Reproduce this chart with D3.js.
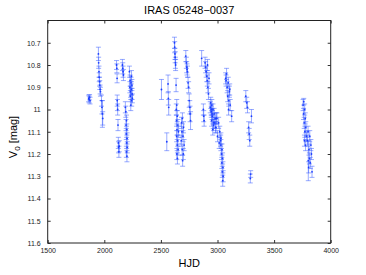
<!doctype html>
<html lang="en">
<head>
<meta charset="utf-8">
<title>IRAS 05248-0037</title>
<script src="https://cdn.jsdelivr.net/npm/d3@7"></script>
<style>
html, body { margin: 0; padding: 0; background: #fff; }
svg { display: block; font-family: "Liberation Sans", Arial, sans-serif; }
.tick text { font-size: 7px; fill: #222; }
.tick line { stroke: #333; }
.domain { stroke: none; }
</style>
</head>
<body>
<svg id="chart" width="366" height="275"></svg>
<script>
// light curve, one entry per observation (same order in all three arrays)
const hjd = [
  1862, 1866, 1870, 1874,
  1948, 1950, 1953, 1955, 1958, 1960, 1963, 1966, 1975, 1979, 1983, 1986,
  2108, 2111, 2113, 2114, 2116, 2118, 2121, 2124, 2126, 2129, 2132,
  2160, 2163, 2166, 2169,
  2186, 2190, 2196, 2192, 2199, 2194, 2201, 2197, 2203, 2195, 2200,
  2222, 2240, 2228, 2236, 2244, 2226, 2238, 2232, 2246, 2230, 2242, 2234, 2248,
  2505,
  2552, 2563, 2566, 2569,
  2620, 2622, 2624, 2626, 2628, 2630, 2634,
  2640, 2636, 2645, 2638, 2650, 2642, 2655, 2639, 2648, 2644, 2652, 2641, 2646,
  2690, 2682, 2700, 2686, 2695, 2680, 2705, 2688, 2698, 2692,
  2720, 2725, 2728, 2731, 2735, 2740, 2745, 2750, 2755, 2758, 2762,
  2860,
  2875, 2878, 2882,
  2890, 2895, 2900, 2905, 2910, 2915, 2920, 2925, 2912,
  2940, 2950, 2936, 2960, 2945, 2970, 2955, 2980, 2948, 2975, 2965, 2985, 2958, 2944, 2990, 2962, 2952,
  2995, 3010, 2985, 3020, 3000, 3030, 3015,
  3030, 3040, 3035, 3045, 3038, 3048, 3042, 3050, 3046, 3028,
  3080, 3072, 3095, 3085, 3105, 3090, 3100, 3112, 3098, 3076, 3108,
  3125,
  3250, 3258, 3265, 3275, 3280, 3285, 3290, 3293, 3300,
  3762, 3756, 3770, 3760, 3775, 3766, 3780, 3772, 3785, 3768, 3778,
  3800, 3815, 3795, 3825, 3808, 3830, 3812, 3820, 3805, 3802, 3835
];
const mag = [
  10.95, 10.955, 10.945, 10.96,
  10.75, 10.79, 10.83, 10.855, 10.875, 10.89, 10.91, 10.92, 10.96, 10.99, 11.02, 11.04,
  10.8, 10.815, 10.86, 10.96, 10.98, 11.0, 11.07, 11.15, 11.17, 11.19, 11.165,
  10.8, 10.815, 10.83, 10.845,
  10.99, 11.01, 11.05, 11.07, 11.09, 11.11, 11.13, 11.15, 11.17, 11.19, 11.21,
  10.83, 10.85, 10.87, 10.88, 10.89, 10.9, 10.91, 10.92, 10.93, 10.94, 10.96, 10.98, 10.95,
  10.91,
  11.145, 10.885, 10.95, 10.99,
  10.7, 10.72, 10.75, 10.765, 10.79, 10.8, 10.89,
  10.98, 11.0, 11.03, 11.05, 11.07, 11.09, 11.1, 11.12, 11.14, 11.16, 11.18, 11.2, 11.22,
  11.04, 11.06, 11.08, 11.1, 11.12, 11.14, 11.16, 11.18, 11.2, 11.23,
  10.76, 10.79, 10.81, 10.82, 10.83, 10.88, 10.9, 10.96, 10.99, 11.02, 11.05,
  10.77,
  11.0, 11.03, 11.05,
  10.79, 10.81, 10.83, 10.85, 10.87, 10.9, 10.93, 10.86, 10.8,
  10.97, 10.98, 10.99, 11.0, 11.01, 11.02, 11.03, 11.04, 11.05, 11.06, 11.07, 11.08, 11.09, 11.0, 11.04, 11.06, 11.02,
  11.04, 11.06, 11.08, 11.1, 11.12, 11.13, 11.15,
  11.16, 11.18, 11.2, 11.22, 11.24, 11.26, 11.28, 11.3, 11.32, 11.14,
  10.84, 10.86, 10.88, 10.9, 10.92, 10.94, 10.96, 10.98, 11.0, 10.87, 10.91,
  11.03,
  10.94, 10.97, 10.99, 11.08, 11.11, 11.14, 11.31, 11.29, 11.03,
  10.965, 10.98, 11.0, 11.02, 11.04, 11.06, 11.08, 11.1, 11.12, 11.14, 11.16,
  11.1, 11.12, 11.14, 11.16, 11.18, 11.2, 11.22, 11.24, 11.26, 11.23, 11.28
];
const err = [
  0.015, 0.015, 0.012, 0.015,
  0.03, 0.025, 0.025, 0.02, 0.02, 0.02, 0.02, 0.02, 0.025, 0.03, 0.06, 0.03,
  0.02, 0.02, 0.02, 0.025, 0.025, 0.025, 0.025, 0.025, 0.025, 0.025, 0.025,
  0.025, 0.025, 0.025, 0.025,
  0.025, 0.025, 0.025, 0.025, 0.025, 0.025, 0.025, 0.025, 0.025, 0.025, 0.025,
  0.025, 0.025, 0.025, 0.025, 0.025, 0.025, 0.025, 0.025, 0.025, 0.025, 0.025, 0.025, 0.02,
  0.045,
  0.04, 0.04, 0.03, 0.035,
  0.025, 0.025, 0.025, 0.025, 0.025, 0.025, 0.03,
  0.025, 0.025, 0.025, 0.025, 0.025, 0.025, 0.025, 0.025, 0.025, 0.025, 0.025, 0.025, 0.025,
  0.025, 0.025, 0.025, 0.025, 0.025, 0.025, 0.025, 0.025, 0.025, 0.025,
  0.025, 0.025, 0.025, 0.025, 0.025, 0.025, 0.025, 0.03, 0.03, 0.035, 0.04,
  0.035,
  0.025, 0.025, 0.025,
  0.025, 0.025, 0.025, 0.025, 0.025, 0.025, 0.025, 0.025, 0.025,
  0.025, 0.025, 0.025, 0.025, 0.025, 0.025, 0.025, 0.025, 0.025, 0.025, 0.025, 0.025, 0.025, 0.025, 0.025, 0.025, 0.025,
  0.025, 0.025, 0.025, 0.025, 0.025, 0.025, 0.025,
  0.025, 0.025, 0.025, 0.025, 0.025, 0.025, 0.025, 0.025, 0.025, 0.025,
  0.025, 0.025, 0.025, 0.025, 0.025, 0.025, 0.025, 0.025, 0.025, 0.025, 0.025,
  0.025,
  0.025, 0.025, 0.025, 0.025, 0.025, 0.025, 0.02, 0.015, 0.03,
  0.015, 0.025, 0.025, 0.025, 0.025, 0.025, 0.025, 0.025, 0.025, 0.025, 0.025,
  0.025, 0.025, 0.025, 0.025, 0.025, 0.025, 0.025, 0.025, 0.025, 0.09, 0.025
];
const xTicks = [1500, 2000, 2500, 3000, 3500, 4000];
const yTicks = [10.7, 10.8, 10.9, 11, 11.1, 11.2, 11.3, 11.4, 11.5, 11.6];

const plotL = 47.7, plotR = 330.7, plotT = 20.5, plotB = 243;
const svg = d3.select("#chart");

const x = d3.scaleLinear().domain([1500, 4000]).range([plotL, plotR]);
const y = d3.scaleLinear().domain([10.6, 11.6]).range([plotT, plotB]);

const pts = hjd.map((h, i) => ({h: h, m: mag[i], e: err[i]}));

// error bars
const g = svg.append("g");
const bar = g.selectAll("g.eb").data(pts).enter().append("g").attr("class", "eb")
  .attr("stroke", "#3a5cff").attr("stroke-opacity", 0.65).attr("stroke-width", 0.8);
bar.append("line")
  .attr("x1", d => x(d.h)).attr("x2", d => x(d.h))
  .attr("y1", d => y(d.m - d.e)).attr("y2", d => y(d.m + d.e));
bar.append("line")
  .attr("x1", d => x(d.h) - 2.5).attr("x2", d => x(d.h) + 2.5)
  .attr("y1", d => y(d.m - d.e)).attr("y2", d => y(d.m - d.e));
bar.append("line")
  .attr("x1", d => x(d.h) - 2.5).attr("x2", d => x(d.h) + 2.5)
  .attr("y1", d => y(d.m + d.e)).attr("y2", d => y(d.m + d.e));
g.selectAll("circle").data(pts).enter().append("circle")
  .attr("cx", d => x(d.h)).attr("cy", d => y(d.m)).attr("r", 0.9)
  .attr("fill", "#1a3cff");

// axes, ticks pointing inwards on all four sides
const fmtY = d => String(+d.toFixed(1));
svg.append("g").attr("transform", `translate(0,${plotB})`)
  .call(d3.axisBottom(x).tickValues(xTicks).tickSize(-3).tickPadding(5).tickFormat(d3.format("d")));
svg.append("g").attr("transform", `translate(0,${plotT})`)
  .call(d3.axisTop(x).tickValues(xTicks).tickSize(-3).tickFormat(""));
svg.append("g").attr("transform", `translate(${plotL},0)`)
  .call(d3.axisLeft(y).tickValues(yTicks).tickSize(-3).tickPadding(7).tickFormat(fmtY));
svg.append("g").attr("transform", `translate(${plotR},0)`)
  .call(d3.axisRight(y).tickValues(yTicks).tickSize(-3).tickFormat(""));

svg.append("rect")
  .attr("x", plotL).attr("y", plotT).attr("width", plotR - plotL).attr("height", plotB - plotT)
  .attr("fill", "none").attr("stroke", "#222").attr("stroke-width", 1);

// labels
svg.append("text").attr("x", (plotL + plotR) / 2).attr("y", 13.5)
  .attr("text-anchor", "middle").attr("font-size", 11).text("IRAS 05248\u22120037");
svg.append("text").attr("x", (plotL + plotR) / 2).attr("y", 267)
  .attr("text-anchor", "middle").attr("font-size", 11).text("HJD");
const yl = svg.append("text").attr("transform", "translate(17,137) rotate(-90)")
  .attr("text-anchor", "middle").attr("font-size", 11);
yl.append("tspan").text("V");
yl.append("tspan").attr("font-size", 8).attr("dy", 3).text("0");
yl.append("tspan").attr("dy", -3).text(" [mag]");
</script>
</body>
</html>
